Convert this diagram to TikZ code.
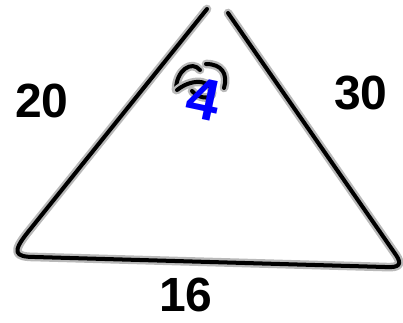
\documentclass[tikz,border=0pt]{standalone}
\usepackage{fontspec}
\setmainfont{Liberation Sans}
\usepackage{tikz}

\tikzset{
  ink/.style={preaction={draw=gray!55, line width=6.5pt, line cap=round, line join=round},
    draw=black, line width=3pt, line cap=round, line join=round},
  digits/.style={font=\bfseries\fontsize{36}{36}\selectfont}
}

\begin{document}
\begin{tikzpicture}[x=0.75pt, y=-0.75pt]
\useasboundingbox (0,0) rectangle (403,322);
% triangle, drawn by hand with a gap at the top
\draw[ink] (207,9) -- (28,232) .. controls (12,252) and (14,257) .. (35,257)
  -- (385,267) .. controls (400,268) and (402,264) .. (396,255) -- (228,13);
% side lengths
\node[digits] (left) at (42,101) {20};
\node[digits] (right) at (361,93) {30};
\node[digits] (bottom) at (186,295) {16};
% angle mark, overwritten in blue
\draw[ink] (176,90) .. controls (176,70) and (192,60) .. (200,70);
\draw[ink] (206,64) .. controls (222,64) and (228,74) .. (224,88);
\draw[ink] (177,90) .. controls (195,76) and (214,82) .. (212,94)
  .. controls (210,100) and (198,98) .. (192,91);
\node[digits, text=blue, rotate=-12] (angle) at (204,99) {\fontsize{44}{44}\selectfont 4};
\end{tikzpicture}
\end{document}
